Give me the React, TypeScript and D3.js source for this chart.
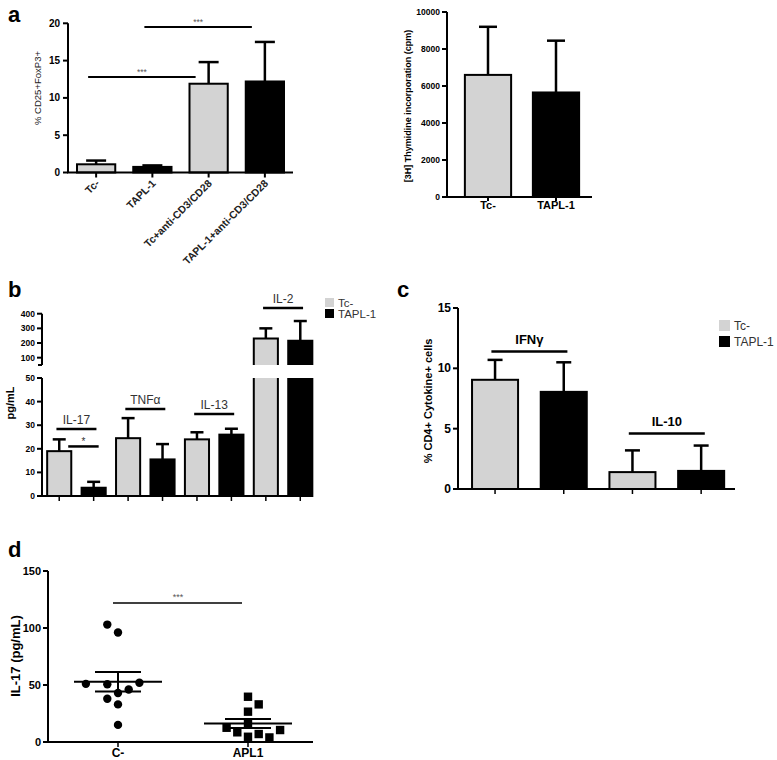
import React from "react";
import * as d3 from "d3";

const FONT = "Liberation Sans, Arial, Helvetica, sans-serif";
const GRAY = "#d3d3d3";
const seriesNames = ["Tc-", "TAPL-1"];
const seriesColors = [GRAY, "#000000"];

// Panel a (left)
const aCategories = ["Tc-", "TAPL-1", "Tc+anti-CD3/CD28", "TAPL-1+anti-CD3/CD28"];
const aMeans = [1.1, 0.75, 11.9, 12.2];
const aErrTops = [1.6, 0.95, 14.8, 17.5];
const aSeries = [0, 1, 0, 1];
const aTicks = [0, 5, 10, 15, 20];
const aSig = [
  { from: 0, to: 2, value: 12.8, label: "***" },
  { from: 1, to: 3, value: 19.5, label: "***" },
];

// Panel a (right)
const arCategories = ["Tc-", "TAPL-1"];
const arMeans = [6600, 5650];
const arErrTops = [9200, 8450];
const arTicks = [0, 2000, 4000, 6000, 8000, 10000];

// Panel b
const bCytokines = ["IL-17", "TNFα", "IL-13", "IL-2"];
const bTcMeans = [19, 24.5, 24, 230];
const bTcErrTops = [24, 33, 27, 300];
const bTaplMeans = [3.5, 15.5, 26, 215];
const bTaplErrTops = [6, 22, 28.5, 350];
const bLabelLevels = [28.4, 36.9, 34.7, 439];
const bLowTicks = [0, 10, 20, 30, 40, 50];
const bHighTicks = [100, 200, 300, 400];
const bSigLevel = 21;

// Panel c
const cCytokines = ["IFNγ", "IL-10"];
const cTcMeans = [9.05, 1.4];
const cTcErrTops = [10.7, 3.2];
const cTaplMeans = [8.05, 1.5];
const cTaplErrTops = [10.5, 3.6];
const cLabelLevels = [11.4, 4.6];
const cTicks = [0, 5, 10, 15];

// Panel d
const dGroups = ["C-", "APL1"];
const dCMinus = [96, 103, 43, 33, 15, 50.6, 46, 52, 51, 38];
const dApl1 = [39.7, 33, 26.6, 16.5, 4.6, 4, 7, 8.5, 10.5, 12.5];
const dTicks = [0, 50, 100, 150];
const dSigLevel = 122;

function swarm(values: number[], y: (v: number) => number, cx: number, spacing: number, minDist: number, dir: number) {
  const placed: { x: number; y: number }[] = [];
  return values.map((v) => {
    const py = y(v);
    for (let k = 0; k < 30; k++) {
      const s = Math.ceil(k / 2) * (k % 2 === 1 ? dir : -dir);
      const px = cx + s * spacing;
      if (placed.every((p) => Math.hypot(p.x - px, p.y - py) >= minDist)) {
        placed.push({ x: px, y: py });
        return { x: px, y: py, v };
      }
    }
    return { x: cx, y: py, v };
  });
}

function meanSem(vals: number[]) {
  const m = d3.mean(vals) as number;
  const sd = d3.deviation(vals) as number;
  return { m, sem: sd / Math.sqrt(vals.length) };
}

function ErrBar({ x, y0, y1, cap, sw = 2.5 }: any) {
  return (
    <g stroke="#000" strokeWidth={sw} fill="none">
      <line x1={x} x2={x} y1={y0} y2={y1} />
      <line x1={x - cap / 2} x2={x + cap / 2} y1={y1} y2={y1} />
    </g>
  );
}

export default function App() {
  // ---------- Panel a left ----------
  const axA = d3.scaleBand<string>().domain(aCategories).range([68, 293]).paddingInner(0.32).paddingOuter(0.16);
  const ayA = d3.scaleLinear().domain([0, 20]).range([172.5, 23.3]);
  const cA = (i: number) => (axA(aCategories[i]) as number) + axA.bandwidth() / 2;

  // ---------- Panel a right ----------
  const axR = d3.scaleBand<string>().domain(arCategories).range([454, 590]).paddingInner(0.32).paddingOuter(0.16);
  const ayR = d3.scaleLinear().domain([0, 10000]).range([197, 12]);

  // ---------- Panel b ----------
  const bxO = d3.scaleBand<string>().domain(bCytokines).range([42, 317.5]);
  const bxI = d3.scaleBand<string>().domain(seriesNames).range([0, bxO.bandwidth()]).paddingInner(0.3).paddingOuter(0.15);
  const byLow = d3.scaleLinear().domain([0, 50]).range([496, 378]);
  const byHigh = d3.scaleLinear().domain([50, 400]).range([365, 313.7]);
  const bBars: any[] = [];
  bCytokines.forEach((c, i) => {
    [bTcMeans, bTaplMeans].forEach((arr, s) => {
      const errs = s === 0 ? bTcErrTops : bTaplErrTops;
      bBars.push({ c, s, v: arr[i], e: errs[i], x: (bxO(c) as number) + (bxI(seriesNames[s]) as number) });
    });
  });
  const bw = bxI.bandwidth();

  // ---------- Panel c ----------
  const cxO = d3.scaleBand<string>().domain(cCytokines).range([460.7, 735.5]);
  const cxI = d3.scaleBand<string>().domain(seriesNames).range([0, cxO.bandwidth()]).paddingInner(0.33).paddingOuter(0.165);
  const cy = d3.scaleLinear().domain([0, 15]).range([489, 308]);
  const cBars: any[] = [];
  cCytokines.forEach((c, i) => {
    [cTcMeans, cTaplMeans].forEach((arr, s) => {
      const errs = s === 0 ? cTcErrTops : cTaplErrTops;
      cBars.push({ c, s, v: arr[i], e: errs[i], x: (cxO(c) as number) + (cxI(seriesNames[s]) as number) });
    });
  });
  const cw = cxI.bandwidth();

  // ---------- Panel d ----------
  const dx = d3.scalePoint<string>().domain(dGroups).range([118, 248]);
  const dy = d3.scaleLinear().domain([0, 150]).range([742, 571]);
  const dC = swarm(dCMinus, dy, dx("C-") as number, 10.7, 11, -1);
  const dA = swarm(dApl1, dy, dx("APL1") as number, 10.7, 11, 1);
  const statC = meanSem(dCMinus);
  const statA = meanSem(dApl1);

  const bold = { fontFamily: FONT, fontWeight: 700 } as any;
  const reg = { fontFamily: FONT, fontWeight: 400 } as any;

  return (
    <svg width={777} height={760} style={{ position: "absolute", left: 0, top: 0, background: "#fff" }}>
      {/* Panel letters */}
      <text x={8} y={22} fontSize={22} {...bold}>a</text>
      <text x={8} y={297} fontSize={22} {...bold}>b</text>
      <text x={397} y={297} fontSize={22} {...bold}>c</text>
      <text x={8} y={557} fontSize={22} {...bold}>d</text>

      {/* ===== Panel a left ===== */}
      <g>
        {aCategories.map((c, i) => (
          <g key={c}>
            <rect x={axA(c)} y={ayA(aMeans[i])} width={axA.bandwidth()} height={ayA(0) - ayA(aMeans[i])}
              fill={seriesColors[aSeries[i]]} stroke="#000" strokeWidth={2} />
            <ErrBar x={cA(i)} y0={ayA(aMeans[i])} y1={ayA(aErrTops[i])} cap={20} />
          </g>
        ))}
        <line x1={68} x2={68} y1={ayA(20)} y2={ayA(0)} stroke="#000" strokeWidth={2} />
        <line x1={67} x2={293} y1={ayA(0)} y2={ayA(0)} stroke="#000" strokeWidth={2} />
        {aTicks.map((t) => (
          <g key={t}>
            <line x1={63} x2={68} y1={ayA(t)} y2={ayA(t)} stroke="#000" strokeWidth={2} />
            <text x={60} y={ayA(t) + 3.5} fontSize={10} textAnchor="end" {...bold}>{t}</text>
          </g>
        ))}
        {aCategories.map((c, i) => (
          <g key={c}>
            <line x1={cA(i)} x2={cA(i)} y1={ayA(0)} y2={ayA(0) + 5} stroke="#000" strokeWidth={2} />
            <text transform={`translate(${cA(i) + 4},${184}) rotate(-45)`} fontSize={10.5} textAnchor="end" {...bold} fill="#222">{c}</text>
          </g>
        ))}
        {aSig.map((s, i) => (
          <g key={i}>
            <line x1={cA(s.from) - 8} x2={cA(s.to) - 13} y1={ayA(s.value)} y2={ayA(s.value)} stroke="#000" strokeWidth={2} />
            <text x={(cA(s.from) - 8 + cA(s.to) - 13) / 2} y={ayA(s.value) - 2} fontSize={8.5} textAnchor="middle" fill="#555" {...reg}>{s.label}</text>
          </g>
        ))}
        <text transform={`translate(41,88) rotate(-90)`} fontSize={9.5} textAnchor="middle" fill="#222" {...reg}>% CD25+FoxP3+</text>
      </g>

      {/* ===== Panel a right ===== */}
      <g>
        {arCategories.map((c, i) => {
          const x = axR(c) as number;
          return (
            <g key={c}>
              <rect x={x} y={ayR(arMeans[i])} width={axR.bandwidth()} height={ayR(0) - ayR(arMeans[i])}
                fill={seriesColors[i]} stroke="#000" strokeWidth={2} />
              <ErrBar x={x + axR.bandwidth() / 2} y0={ayR(arMeans[i])} y1={ayR(arErrTops[i])} cap={18} />
              <line x1={x + axR.bandwidth() / 2} x2={x + axR.bandwidth() / 2} y1={ayR(0)} y2={ayR(0) + 4} stroke="#000" strokeWidth={2} />
              <text x={x + axR.bandwidth() / 2} y={209} fontSize={11} textAnchor="middle" {...bold}>{c}</text>
            </g>
          );
        })}
        <line x1={447} x2={447} y1={ayR(10000)} y2={ayR(0)} stroke="#000" strokeWidth={2} />
        <line x1={446} x2={592} y1={ayR(0)} y2={ayR(0)} stroke="#000" strokeWidth={2} />
        {arTicks.map((t) => (
          <g key={t}>
            <line x1={442} x2={447} y1={ayR(t)} y2={ayR(t)} stroke="#000" strokeWidth={2} />
            <text x={440} y={ayR(t) + 3} fontSize={8.5} textAnchor="end" {...bold}>{t}</text>
          </g>
        ))}
        <text transform={`translate(411,106) rotate(-90)`} fontSize={9} textAnchor="middle" {...bold}>[3H] Thymidine incorporation (cpm)</text>
      </g>

      {/* ===== Panel b ===== */}
      <g>
        {bBars.map((b, i) => {
          const cx = b.x + bw / 2;
          const fill = seriesColors[b.s];
          if (b.v <= 50) {
            return (
              <g key={i}>
                <rect x={b.x} y={byLow(b.v)} width={bw} height={byLow(0) - byLow(b.v)} fill={fill} stroke="#000" strokeWidth={2} />
                <ErrBar x={cx} y0={byLow(b.v)} y1={byLow(b.e)} cap={13} />
              </g>
            );
          }
          return (
            <g key={i}>
              <rect x={b.x} y={byLow(50)} width={bw} height={byLow(0) - byLow(50)} fill={fill} />
              <path d={`M${b.x},${byLow(50)}V${byLow(0)}H${b.x + bw}V${byLow(50)}`} fill="none" stroke="#000" strokeWidth={2} />
              <rect x={b.x} y={byHigh(b.v)} width={bw} height={byHigh(50) - byHigh(b.v)} fill={fill} />
              <path d={`M${b.x},${byHigh(50)}V${byHigh(b.v)}H${b.x + bw}V${byHigh(50)}`} fill="none" stroke="#000" strokeWidth={2} />
              <ErrBar x={cx} y0={byHigh(b.v)} y1={byHigh(b.e)} cap={13} />
            </g>
          );
        })}
        <line x1={42} x2={42} y1={byLow(50)} y2={byLow(0)} stroke="#000" strokeWidth={2} />
        <line x1={42} x2={42} y1={byHigh(400)} y2={byHigh(50)} stroke="#000" strokeWidth={2} />
        <line x1={38} x2={42} y1={byHigh(50)} y2={byHigh(50)} stroke="#000" strokeWidth={2} />
        <line x1={41} x2={313} y1={byLow(0)} y2={byLow(0)} stroke="#000" strokeWidth={2} />
        {bLowTicks.map((t) => (
          <g key={"l" + t}>
            <line x1={37} x2={42} y1={byLow(t)} y2={byLow(t)} stroke="#000" strokeWidth={2} />
            <text x={35} y={byLow(t) + 3} fontSize={8.5} textAnchor="end" {...bold}>{t}</text>
          </g>
        ))}
        {bHighTicks.map((t) => (
          <g key={"h" + t}>
            <line x1={37} x2={42} y1={byHigh(t)} y2={byHigh(t)} stroke="#000" strokeWidth={2} />
            <text x={35} y={byHigh(t) + 3} fontSize={8.5} textAnchor="end" {...bold}>{t}</text>
          </g>
        ))}
        {bBars.map((b, i) => (
          <line key={"t" + i} x1={b.x + bw / 2} x2={b.x + bw / 2} y1={byLow(0)} y2={byLow(0) + 5} stroke="#000" strokeWidth={1.5} />
        ))}
        {bCytokines.map((c, i) => {
          const mid = (bxO(c) as number) + bxO.bandwidth() / 2;
          const ly = i === 3 ? byHigh(bLabelLevels[i]) : byLow(bLabelLevels[i]);
          return (
            <g key={c}>
              <line x1={mid - 20} x2={mid + 20} y1={ly} y2={ly} stroke="#000" strokeWidth={2.5} />
              <text x={mid} y={ly - 5} fontSize={12} textAnchor="middle" fill="#333" {...reg}>{c}</text>
            </g>
          );
        })}
        {(() => {
          const x1 = bBars[0].x + bw / 2 + 9;
          const x2 = bBars[1].x + bw / 2 + 5;
          return (
            <g>
              <line x1={x1} x2={x2} y1={byLow(bSigLevel)} y2={byLow(bSigLevel)} stroke="#000" strokeWidth={2.5} />
              <text x={(x1 + x2) / 2} y={byLow(bSigLevel) - 1} fontSize={10} textAnchor="middle" fill="#333" {...reg}>*</text>
            </g>
          );
        })()}
        <text transform={`translate(14,403) rotate(-90)`} fontSize={11} textAnchor="middle" {...bold}>pg/mL</text>
        {seriesNames.map((s, i) => (
          <g key={s}>
            <rect x={325} y={298 + i * 11} width={9} height={9} fill={seriesColors[i]} />
            <text x={338} y={306.5 + i * 11} fontSize={11.5} fill="#333" {...reg}>{s}</text>
          </g>
        ))}
      </g>

      {/* ===== Panel c ===== */}
      <g>
        {cBars.map((b, i) => (
          <g key={i}>
            <rect x={b.x} y={cy(b.v)} width={cw} height={cy(0) - cy(b.v)} fill={seriesColors[b.s]} stroke="#000" strokeWidth={2} />
            <ErrBar x={b.x + cw / 2} y0={cy(b.v)} y1={cy(b.e)} cap={15} />
            <line x1={b.x + cw / 2} x2={b.x + cw / 2} y1={cy(0)} y2={cy(0) + 5} stroke="#000" strokeWidth={1.5} />
          </g>
        ))}
        <line x1={458} x2={458} y1={cy(15)} y2={cy(0)} stroke="#000" strokeWidth={2} />
        <line x1={457} x2={735} y1={cy(0)} y2={cy(0)} stroke="#000" strokeWidth={2} />
        {cTicks.map((t) => (
          <g key={t}>
            <line x1={453} x2={458} y1={cy(t)} y2={cy(t)} stroke="#000" strokeWidth={2} />
            <text x={451} y={cy(t) + 4} fontSize={12} textAnchor="end" {...bold}>{t}</text>
          </g>
        ))}
        {cCytokines.map((c, i) => {
          const mid = (cxO(c) as number) + cxO.bandwidth() / 2;
          const ly = cy(cLabelLevels[i]);
          return (
            <g key={c}>
              <line x1={mid - 38} x2={mid + 38} y1={ly} y2={ly} stroke="#000" strokeWidth={2.5} />
              <text x={mid} y={ly - 7} fontSize={13} textAnchor="middle" {...bold}>{c}</text>
            </g>
          );
        })}
        <text transform={`translate(432,401) rotate(-90)`} fontSize={11} textAnchor="middle" {...bold}>% CD4+ Cytokine+ cells</text>
        {seriesNames.map((s, i) => (
          <g key={s}>
            <rect x={719} y={320 + i * 16} width={11} height={11} fill={seriesColors[i]} />
            <text x={734} y={330 + i * 16} fontSize={12} fill="#333" {...reg}>{s}</text>
          </g>
        ))}
      </g>

      {/* ===== Panel d ===== */}
      <g>
        <line x1={48} x2={48} y1={dy(150)} y2={dy(0)} stroke="#000" strokeWidth={2} />
        <line x1={47} x2={313} y1={dy(0)} y2={dy(0)} stroke="#000" strokeWidth={2} />
        {dTicks.map((t) => (
          <g key={t}>
            <line x1={43} x2={48} y1={dy(t)} y2={dy(t)} stroke="#000" strokeWidth={2} />
            <text x={41} y={dy(t) + 4} fontSize={11} textAnchor="end" {...bold}>{t}</text>
          </g>
        ))}
        {dGroups.map((g) => (
          <g key={g}>
            <line x1={dx(g)} x2={dx(g)} y1={dy(0)} y2={dy(0) + 5} stroke="#000" strokeWidth={1.5} />
            <text x={dx(g)} y={757} fontSize={12} textAnchor="middle" {...bold}>{g}</text>
          </g>
        ))}
        {dC.map((p, i) => (
          <circle key={"c" + i} cx={p.x} cy={p.y} r={4.2} fill="#000" />
        ))}
        {dA.map((p, i) => (
          <rect key={"a" + i} x={p.x - 4.2} y={p.y - 4.2} width={8.4} height={8.4} fill="#000" />
        ))}
        {[{ st: statC, g: "C-" }, { st: statA, g: "APL1" }].map(({ st, g }) => {
          const x = dx(g) as number;
          return (
            <g key={g} stroke="#000" strokeWidth={2}>
              <line x1={x - 44} x2={x + 44} y1={dy(st.m)} y2={dy(st.m)} />
              <line x1={x - 23} x2={x + 23} y1={dy(st.m + st.sem)} y2={dy(st.m + st.sem)} />
              <line x1={x - 23} x2={x + 23} y1={dy(st.m - st.sem)} y2={dy(st.m - st.sem)} />
              <line x1={x} x2={x} y1={dy(st.m + st.sem)} y2={dy(st.m - st.sem)} />
            </g>
          );
        })}
        <line x1={(dx("C-") as number) - 5} x2={(dx("APL1") as number) - 6} y1={dy(dSigLevel)} y2={dy(dSigLevel)} stroke="#000" strokeWidth={1.5} />
        <text x={((dx("C-") as number) + (dx("APL1") as number)) / 2 - 5} y={dy(dSigLevel) - 3} fontSize={9} textAnchor="middle" fill="#555" {...reg}>***</text>
        <text transform={`translate(20,656) rotate(-90)`} fontSize={13} textAnchor="middle" {...bold}>IL-17 (pg/mL)</text>
      </g>
    </svg>
  );
}
